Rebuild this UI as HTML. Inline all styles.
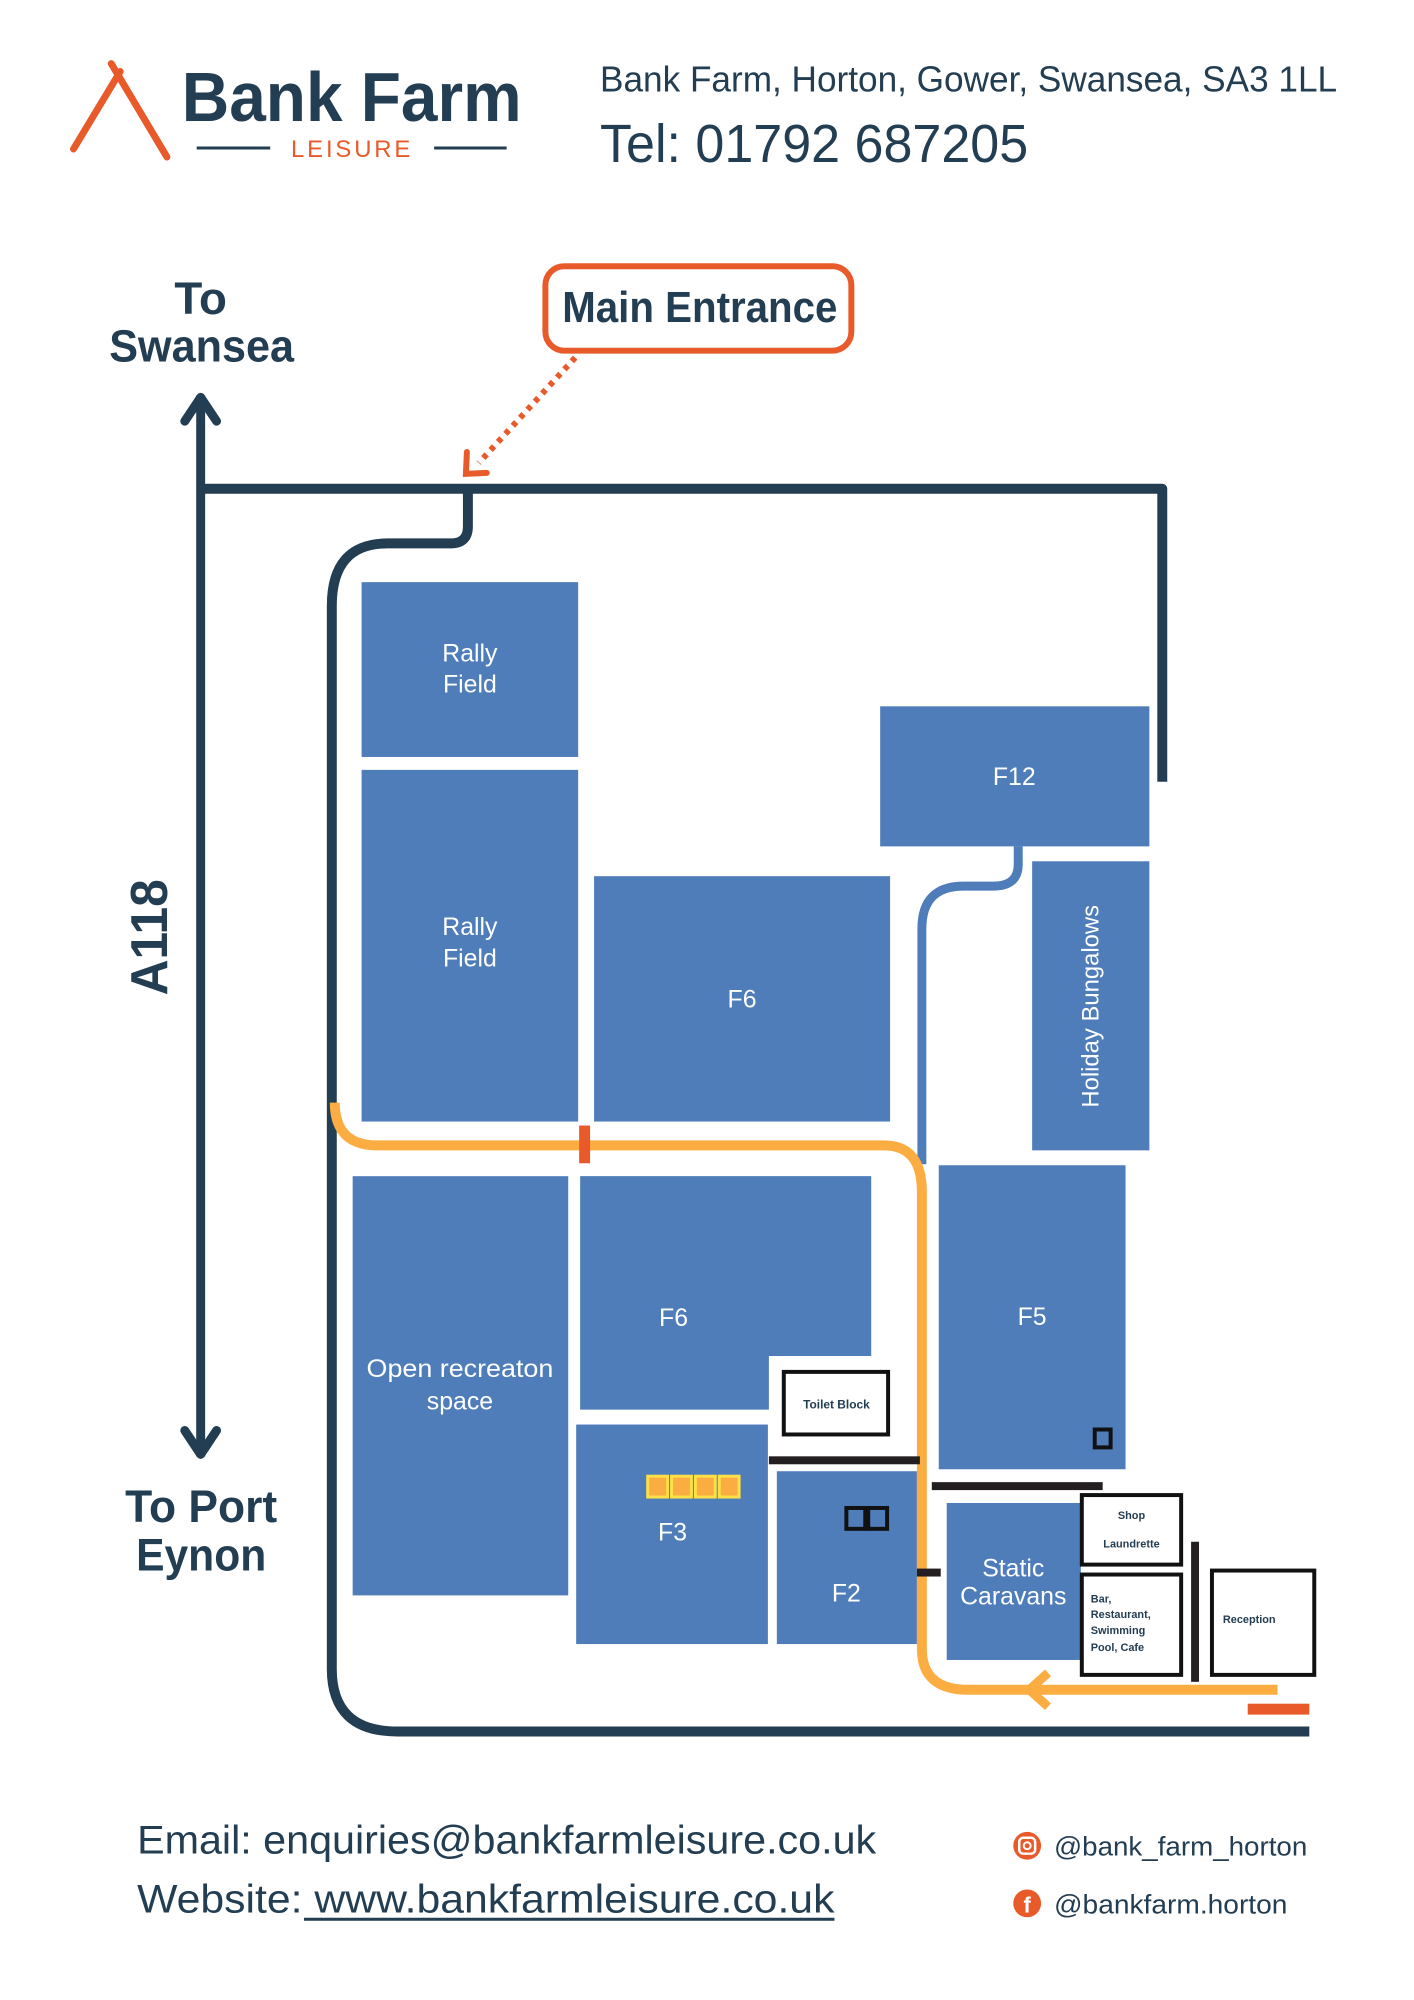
<!DOCTYPE html>
<html><head><meta charset="utf-8"><style>html,body{margin:0;padding:0;background:#fff}svg{display:block}</style></head>
<body>
<svg width="1414" height="2000" viewBox="0 0 1414 2000" xmlns="http://www.w3.org/2000/svg" font-family="Liberation Sans, sans-serif">
<rect width="1414" height="2000" fill="#fff"/>
<g transform="scale(0.9934)">
<!-- logo -->
<path d="M74 150 L121 72" stroke="#e85a29" stroke-width="7" stroke-linecap="round"/>
<path d="M112 64 L168 158" stroke="#e85a29" stroke-width="7" stroke-linecap="round"/>
<text x="183" y="122" font-size="70" font-weight="bold" fill="#233d52" textLength="342" lengthAdjust="spacingAndGlyphs">Bank Farm</text>
<text x="293" y="158" font-size="24" fill="#e85a29" textLength="120" lengthAdjust="spacing">LEISURE</text>
<line x1="198" y1="149" x2="272" y2="149" stroke="#233d52" stroke-width="3"/>
<line x1="437" y1="149" x2="510" y2="149" stroke="#233d52" stroke-width="3"/>
<text x="604" y="92" font-size="36" fill="#233d52" textLength="742" lengthAdjust="spacingAndGlyphs">Bank Farm, Horton, Gower, Swansea, SA3 1LL</text>
<text x="604" y="163" font-size="54" fill="#233d52" textLength="431" lengthAdjust="spacingAndGlyphs">Tel: 01792 687205</text>
<!-- To Swansea -->
<text x="202" y="316" font-size="46" font-weight="bold" fill="#233d52" text-anchor="middle">To</text>
<text x="110" y="364" font-size="46" font-weight="bold" fill="#233d52" textLength="186" lengthAdjust="spacingAndGlyphs">Swansea</text>
<text x="126" y="1532" font-size="46" font-weight="bold" fill="#233d52" textLength="153" lengthAdjust="spacingAndGlyphs">To Port</text>
<text x="137" y="1581" font-size="46" font-weight="bold" fill="#233d52" textLength="131" lengthAdjust="spacingAndGlyphs">Eynon</text>
<text transform="translate(168,1002) rotate(-90)" font-size="52" font-weight="bold" fill="#233d52" textLength="117" lengthAdjust="spacingAndGlyphs">A118</text>
<!-- A118 arrow -->
<line x1="202" y1="398" x2="202" y2="1466" stroke="#233d52" stroke-width="9"/>
<path d="M186 424 L202 400 L218 424" fill="none" stroke="#233d52" stroke-width="9" stroke-linecap="round" stroke-linejoin="round"/>
<path d="M186 1440 L202 1464 L218 1440" fill="none" stroke="#233d52" stroke-width="9" stroke-linecap="round" stroke-linejoin="round"/>
<!-- Main entrance -->
<rect x="549" y="268" width="308" height="85" rx="19" fill="#fff" stroke="#e85a29" stroke-width="6"/>
<text x="566" y="324" font-size="44" font-weight="bold" fill="#233d52" textLength="277" lengthAdjust="spacingAndGlyphs">Main Entrance</text>
<line x1="579" y1="360" x2="482" y2="466" stroke="#e85a29" stroke-width="6" stroke-dasharray="5 6"/>
<path d="M470 455 L469 477 L490 476" fill="none" stroke="#e85a29" stroke-width="6" stroke-linecap="round"/>
<!-- dark roads -->
<path d="M206 492 L1170 492 L1170 787" fill="none" stroke="#233d52" stroke-width="10" stroke-linejoin="round"/>
<path d="M471 492 L471 530 Q471 547 454 547 L390 547 Q334 547 334 610 L334 1680 Q334 1743 400 1743 L1318 1743" fill="none" stroke="#233d52" stroke-width="10"/>
<!-- blue blocks -->
<g fill="#4f7dba">
<rect x="364" y="586" width="218" height="176"/>
<rect x="364" y="775" width="218" height="354"/>
<rect x="598" y="882" width="298" height="247"/>
<rect x="886" y="711" width="271" height="141"/>
<rect x="1039" y="867" width="118" height="291"/>
<rect x="355" y="1184" width="217" height="422"/>
<path d="M584 1184 H877 V1365 H774 V1419 H584 Z"/>
<rect x="580" y="1434" width="193" height="221"/>
<rect x="782" y="1481" width="141" height="174"/>
<rect x="945" y="1173" width="188" height="306"/>
<rect x="953" y="1513" width="135" height="158"/>
</g>
<!-- blue path -->
<path d="M1025 852 L1025 870 Q1025 892 1000 892 L970 892 Q928 892 928 935 L928 1172" fill="none" stroke="#4f7dba" stroke-width="9"/>
<!-- orange path -->
<path d="M337 1110 Q337 1153 380 1153 L890 1153 Q928 1153 928 1200 L928 1660 Q928 1701 975 1701 L1286 1701" fill="none" stroke="#fbad41" stroke-width="10"/>
<path d="M1055 1684 L1036 1701 L1055 1718" fill="none" stroke="#fbad41" stroke-width="9"/>
<rect x="583" y="1133" width="11" height="38" fill="#e85a29"/>
<rect x="1256" y="1715" width="62" height="11" fill="#e85a29"/>
<!-- labels -->
<g fill="#fff" font-size="25" text-anchor="middle">
<text x="473" y="666">Rally</text><text x="473" y="697">Field</text>
<text x="473" y="941">Rally</text><text x="473" y="973">Field</text>
<text x="747" y="1014">F6</text>
<text x="1021" y="790">F12</text>
<text transform="translate(1106,1013) rotate(-90)" font-size="24">Holiday Bungalows</text>
<text x="463" y="1386" textLength="188" lengthAdjust="spacingAndGlyphs">Open recreaton</text>
<text x="463" y="1419">space</text>
<text x="678" y="1335">F6</text>
<text x="677" y="1551">F3</text>
<text x="852" y="1612">F2</text>
<text x="1039" y="1334">F5</text>
<text x="1020" y="1587">Static</text>
<text x="1020" y="1615">Caravans</text>
</g>
<!-- toilet etc -->
<rect x="789" y="1381" width="105" height="63" fill="#fff" stroke="#111" stroke-width="4"/>
<text x="842" y="1418" font-size="12" font-weight="bold" fill="#233d52" text-anchor="middle">Toilet Block</text>
<rect x="774" y="1466" width="152" height="8" fill="#231f20"/>
<rect x="938" y="1492" width="172" height="8" fill="#231f20"/>
<rect x="923" y="1579" width="24" height="8" fill="#231f20"/>
<rect x="1199" y="1552" width="8" height="141" fill="#231f20"/>
<g fill="#fbad41" stroke="#fde047" stroke-width="3">
<rect x="652" y="1486" width="20" height="21"/><rect x="676" y="1486" width="20" height="21"/><rect x="700" y="1486" width="20" height="21"/><rect x="724" y="1486" width="20" height="21"/>
</g>
<g fill="none" stroke="#111" stroke-width="4">
<rect x="852" y="1518" width="19" height="21"/><rect x="874" y="1518" width="19" height="21"/>
<rect x="1102" y="1439" width="16" height="18"/>
</g>
<rect x="1089" y="1505" width="100" height="70" fill="#fff" stroke="#111" stroke-width="4"/>
<rect x="1089" y="1585" width="100" height="101" fill="#fff" stroke="#111" stroke-width="4"/>
<rect x="1220" y="1581" width="103" height="105" fill="#fff" stroke="#111" stroke-width="4"/>
<g font-size="11" font-weight="bold" fill="#233d52">
<text x="1139" y="1529" text-anchor="middle">Shop</text>
<text x="1139" y="1558" text-anchor="middle">Laundrette</text>
<text x="1098" y="1613">Bar,</text>
<text x="1098" y="1629">Restaurant,</text>
<text x="1098" y="1645">Swimming</text>
<text x="1098" y="1662">Pool, Cafe</text>
<text x="1231" y="1634">Reception</text>
</g>
<!-- footer -->
<text x="138" y="1866" font-size="40" fill="#233d52" textLength="744" lengthAdjust="spacingAndGlyphs">Email: enquiries@bankfarmleisure.co.uk</text>
<text x="138" y="1925" font-size="40" fill="#233d52" textLength="702" lengthAdjust="spacingAndGlyphs">Website: www.bankfarmleisure.co.uk </text>
<line x1="306" y1="1932" x2="840" y2="1932" stroke="#233d52" stroke-width="3"/>
<circle cx="1034" cy="1858" r="14" fill="#e85a29"/>
<rect x="1026" y="1850" width="16" height="16" rx="4" fill="none" stroke="#fff" stroke-width="2.5"/>
<circle cx="1034" cy="1858" r="3.5" fill="none" stroke="#fff" stroke-width="2"/>
<circle cx="1034" cy="1916" r="14" fill="#e85a29"/>
<text x="1034" y="1925" font-size="22" font-weight="bold" fill="#fff" text-anchor="middle">f</text>
<text x="1061" y="1868" font-size="27" fill="#233d52" textLength="255" lengthAdjust="spacingAndGlyphs">@bank_farm_horton</text>
<text x="1061" y="1926" font-size="27" fill="#233d52" textLength="235" lengthAdjust="spacingAndGlyphs">@bankfarm.horton</text>
</g>
</svg>
</body></html>
